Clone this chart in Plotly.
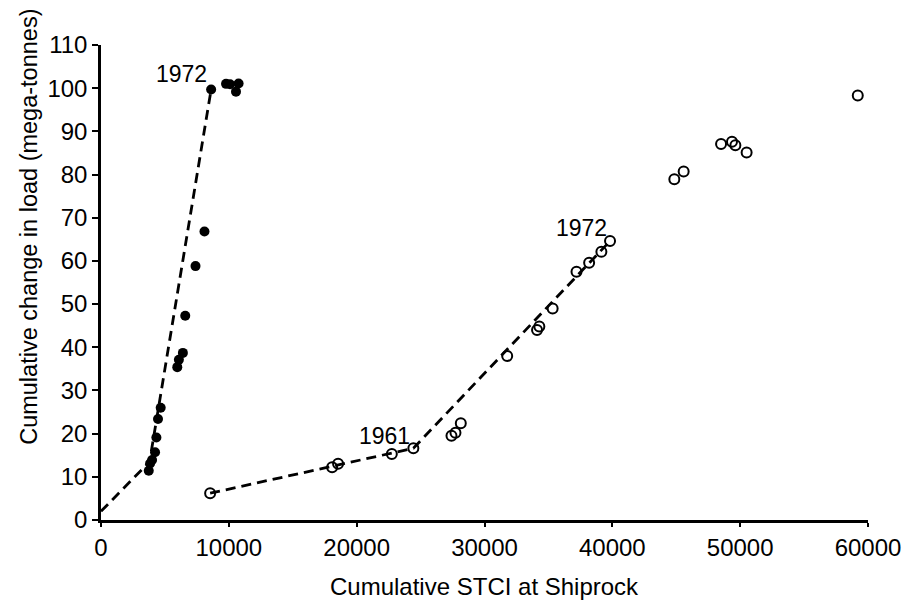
import plotly.graph_objects as go

# Filled points (one record)
filled_x = [3735, 3839, 3994, 4228, 4332, 4460, 4669, 5967, 6093, 6405, 6590,
            7393, 8093, 8615, 9782, 10093, 10560, 10763]
filled_y = [11.4, 13.1, 13.9, 15.7, 19.1, 23.4, 26.0, 35.4, 37.1, 38.7, 47.3,
            58.8, 66.8, 99.7, 101.0, 100.9, 99.2, 101.1]

# Open points (other record)
open_x = [8537, 18080, 18546, 22750, 24435, 27417, 27728, 28146, 31775, 34110,
          34290, 35330, 37198, 38185, 39143, 39820, 44850, 45580, 48505, 49360,
          49625, 50505, 59200]
open_y = [6.2, 12.2, 13.0, 15.3, 16.6, 19.5, 20.2, 22.4, 38.0, 44.0,
          44.8, 49.0, 57.5, 59.6, 62.1, 64.6, 78.9, 80.7, 87.1, 87.6,
          86.8, 85.1, 98.3]

# Dashed trend segments
filled_trend_x = [0, 3800, 8615]
filled_trend_y = [2.0, 13.5, 99.7]
open_trend_x = [8537, 24435, 39820]
open_trend_y = [6.2, 16.6, 64.6]

# Year labels
label_text = ["1972", "1961", "1972"]
label_x = [6303, 22180, 37590]
label_y = [103.3, 19.5, 67.6]

x_ticks = [0, 10000, 20000, 30000, 40000, 50000, 60000]
y_ticks = [0, 10, 20, 30, 40, 50, 60, 70, 80, 90, 100, 110]

FONT = "Liberation Sans, Arial, sans-serif"

fig = go.Figure()
fig.add_trace(go.Scatter(x=filled_trend_x, y=filled_trend_y, mode="lines",
                         line=dict(color="black", width=2.8, dash="10px,6px"),
                         showlegend=False, hoverinfo="skip"))
fig.add_trace(go.Scatter(x=open_trend_x, y=open_trend_y, mode="lines",
                         line=dict(color="black", width=2.8, dash="10px,6px"),
                         showlegend=False, hoverinfo="skip"))
fig.add_trace(go.Scatter(x=filled_x, y=filled_y, mode="markers",
                         marker=dict(symbol="circle", size=10, color="black"),
                         showlegend=False, cliponaxis=False))
fig.add_trace(go.Scatter(x=open_x, y=open_y, mode="markers",
                         marker=dict(symbol="circle-open", size=10, color="black",
                                     line=dict(width=2, color="black")),
                         showlegend=False, cliponaxis=False))

for t, x, y in zip(label_text, label_x, label_y):
    fig.add_annotation(x=x, y=y, text=t, showarrow=False,
                       font=dict(family=FONT, size=23, color="black"))

fig.add_annotation(xref="paper", yref="paper", x=0.5, y=-0.14,
                   text="Cumulative STCI at Shiprock", showarrow=False,
                   xanchor="center", yanchor="middle",
                   font=dict(family=FONT, size=24, color="black"))
fig.add_annotation(xref="paper", yref="paper", x=-0.094, y=0.617,
                   text="Cumulative change in load (mega-tonnes)", showarrow=False,
                   textangle=-90, xanchor="center", yanchor="middle",
                   font=dict(family=FONT, size=23.5, color="black"))

fig.update_xaxes(range=[0, 60000], tickvals=x_ticks,
                 ticktext=[str(v) for v in x_ticks],
                 showline=True, linecolor="black", linewidth=2.5,
                 ticks="outside", ticklen=4, tickwidth=2, tickcolor="black",
                 showgrid=False, zeroline=False,
                 tickfont=dict(family=FONT, size=24, color="black"))
fig.update_yaxes(range=[0, 110], tickvals=y_ticks,
                 showline=True, linecolor="black", linewidth=2.5,
                 ticks="outside", ticklen=6, tickwidth=2, tickcolor="black",
                 showgrid=False, zeroline=False,
                 tickfont=dict(family=FONT, size=24, color="black"))

fig.update_layout(width=905, height=594,
                  margin=dict(l=93, r=39, t=37, b=82),
                  plot_bgcolor="white", paper_bgcolor="white",
                  font=dict(family=FONT, color="black"))

fig.write_html("out.html")
